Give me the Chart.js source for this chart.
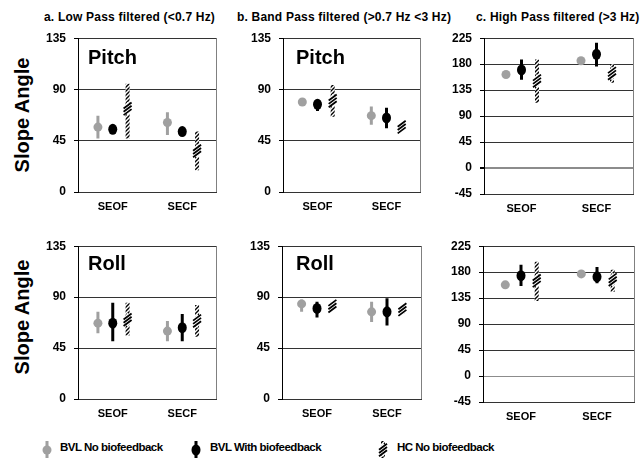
<!DOCTYPE html>
<html>
<head>
<meta charset="utf-8">
<script src="https://cdn.jsdelivr.net/npm/chart.js@4.4.0/dist/chart.umd.min.js"></script>
<style>
  body { margin: 0; background: #fff; }
  #wrap { position: relative; width: 644px; height: 458px; overflow: hidden;
          font-family: "Liberation Sans", Arial, sans-serif; font-weight: bold; color: #000; }
  #wrap canvas { position: absolute; }
  .title { position: absolute; top: 10px; font-size: 12px; letter-spacing: 0.2px; white-space: nowrap; }
  .tag { position: absolute; font-size: 20px; line-height: 20px; }
  .ylab { position: absolute; width: 140px; height: 20px; font-size: 20px; line-height: 20px;
          text-align: center; white-space: nowrap; transform: rotate(-90deg); }
  .leg { position: absolute; top: 441px; font-size: 11.5px; letter-spacing: -0.5px; white-space: nowrap; }
</style>
</head>
<body>
<div id="wrap">
  <div class="title" style="left:44px">a. Low Pass filtered (&lt;0.7 Hz)</div>
  <div class="title" style="left:237px">b. Band Pass filtered (&gt;0.7 Hz &lt;3 Hz)</div>
  <div class="title" style="left:476px">c. High Pass filtered (&gt;3 Hz)</div>

  <div class="ylab" style="left:-48px; top:105px">Slope Angle</div>
  <div class="ylab" style="left:-48px; top:307px">Slope Angle</div>

  <canvas id="c1"></canvas>
  <canvas id="c2"></canvas>
  <canvas id="c3"></canvas>
  <canvas id="c4"></canvas>
  <canvas id="c5"></canvas>
  <canvas id="c6"></canvas>

  <div class="tag" style="left:88px; top:47px">Pitch</div>
  <div class="tag" style="left:296px; top:47px">Pitch</div>
  <div class="tag" style="left:88px; top:253px">Roll</div>
  <div class="tag" style="left:296px; top:253px">Roll</div>

  <canvas id="lg1" width="14" height="20" style="left:40px; top:440px"></canvas>
  <div class="leg" style="left:60px">BVL No biofeedback</div>
  <canvas id="lg2" width="14" height="20" style="left:189px; top:440px"></canvas>
  <div class="leg" style="left:210px">BVL With biofeedback</div>
  <canvas id="lg3" width="14" height="20" style="left:376px; top:440px"></canvas>
  <div class="leg" style="left:397px">HC No biofeedback</div>
</div>

<script>
const categories = ['SEOF', 'SECF'];
const seriesLabels = ['BVL No biofeedback', 'BVL With biofeedback', 'HC No biofeedback'];
const tickStep = 45;
const rangeLowBand = [0, 135];
const rangeHigh = [-45, 225];

// per category (SEOF, SECF): [mean, low, high]
// a. low pass – pitch
const lowPitchGray  = [[57, 47, 67], [61, 50, 70]];
const lowPitchBlack = [[55, 53, 57], [53, 51, 55]];
const lowPitchHatch = [[73, 47, 95], [36, 19, 53]];
// b. band pass – pitch
const bandPitchGray  = [[79, 77, 82], [67, 59, 75]];
const bandPitchBlack = [[77, 71, 81], [65, 56, 74]];
const bandPitchHatch = [[80, 66, 94], [57, 54, 60]];
// c. high pass – pitch
const highPitchGray  = [[162, 159, 165], [186, 183, 189]];
const highPitchBlack = [[170, 153, 188], [197, 176, 217]];
const highPitchHatch = [[151, 113, 188], [164, 148, 180]];
// a. low pass – roll
const lowRollGray  = [[67, 58, 77], [60, 51, 69]];
const lowRollBlack = [[67, 51, 85], [63, 51, 75]];
const lowRollHatch = [[70, 56, 85], [69, 55, 83]];
// b. band pass – roll
const bandRollGray  = [[84, 77, 88], [77, 68, 86]];
const bandRollBlack = [[80, 72, 86], [77, 65, 89]];
const bandRollHatch = [[82, 79, 86], [79, 75, 82]];
// c. high pass – roll
const highRollGray  = [[158, 155, 161], [177, 174, 180]];
const highRollBlack = [[174, 156, 193], [172, 161, 189]];
const highRollHatch = [[165, 130, 198], [167, 146, 184]];

const kinds = ['gray', 'black', 'hatch'];

function makeHatch() {
  const c = document.createElement('canvas');
  c.width = 4; c.height = 4;
  const g = c.getContext('2d');
  g.fillStyle = '#fff';
  g.fillRect(0, 0, 4, 4);
  g.strokeStyle = '#000';
  g.lineWidth = 1.4;
  g.beginPath();
  g.moveTo(0, 4); g.lineTo(4, 0);
  g.moveTo(-1, 1); g.lineTo(1, -1);
  g.moveTo(3, 5); g.lineTo(5, 3);
  g.stroke();
  return g.createPattern(c, 'repeat');
}
const hatch = makeHatch();
const fills = ['#a0a0a0', '#000', hatch];
const barWidths = [3, 3, 4];

function drawMarker(ctx, kind, x, y) {
  ctx.save();
  if (kind === 'gray') {
    ctx.fillStyle = '#a0a0a0';
    ctx.beginPath(); ctx.arc(x, y, 4.5, 0, Math.PI * 2); ctx.fill();
  } else if (kind === 'black') {
    ctx.fillStyle = '#000';
    ctx.beginPath(); ctx.ellipse(x, y, 4.5, 5.5, 0, 0, Math.PI * 2); ctx.fill();
  } else {
    ctx.fillStyle = '#fff';
    ctx.beginPath();
    ctx.moveTo(x, y - 7); ctx.lineTo(x + 5, y); ctx.lineTo(x, y + 7); ctx.lineTo(x - 5, y);
    ctx.closePath(); ctx.fill();
    ctx.strokeStyle = '#000';
    ctx.lineWidth = 1.8;
    ctx.beginPath();
    for (let k = -1; k <= 1; k++) {
      ctx.moveTo(x - 4, y + k * 3.3 + 3);
      ctx.lineTo(x + 4, y + k * 3.3 - 3);
    }
    ctx.stroke();
  }
  ctx.restore();
}

const markerPlugin = {
  id: 'markers',
  afterDatasetsDraw(chart) {
    const ctx = chart.ctx;
    const y = chart.scales.y;
    chart.data.datasets.forEach((ds, i) => {
      chart.getDatasetMeta(i).data.forEach((bar, j) => {
        drawMarker(ctx, ds.kind, bar.x, y.getPixelForValue(ds.means[j]));
      });
    });
  }
};

// right side of the plot frame (left is the axis, top/bottom are grid lines)
const framePlugin = {
  id: 'frame',
  beforeDatasetsDraw(chart) {
    const { ctx, chartArea: a } = chart;
    ctx.save();
    ctx.strokeStyle = '#808080';
    ctx.lineWidth = 1;
    ctx.beginPath();
    ctx.moveTo(Math.round(a.right) - 0.5, a.top);
    ctx.lineTo(Math.round(a.right) - 0.5, a.bottom);
    ctx.stroke();
    ctx.restore();
  }
};

function panel(id, box, yRange, rows) {
  const padL = 44, padT = 10, padR = 3, padB = 26;
  const cv = document.getElementById(id);
  cv.width = box.w + padL + padR;
  cv.height = box.h + padT + padB;
  cv.style.left = (box.x - padL) + 'px';
  cv.style.top = (box.y - padT) + 'px';

  new Chart(cv, {
    type: 'bar',
    data: {
      labels: categories,
      datasets: rows.map((s, i) => ({
        label: seriesLabels[i],
        kind: kinds[i],
        data: s.map(v => [v[1], v[2]]),
        means: s.map(v => v[0]),
        backgroundColor: fills[i],
        borderWidth: 0,
        barPercentage: 1,
        categoryPercentage: box.cat,
        maxBarThickness: barWidths[i]
      }))
    },
    options: {
      responsive: false,
      animation: false,
      layout: { padding: { top: padT, right: padR, left: 0, bottom: 0 } },
      plugins: { legend: { display: false }, tooltip: { enabled: false } },
      scales: {
        x: {
          grid: { display: false, drawTicks: false, tickLength: 0 },
          border: { display: false },
          ticks: { color: '#000', padding: 8, font: { family: 'Liberation Sans', size: 11, weight: 'bold' } },
          afterFit: s => { s.height = padB; }
        },
        y: {
          min: yRange[0],
          max: yRange[1],
          ticks: { stepSize: tickStep, color: '#000', padding: 8,
                   font: { family: 'Liberation Sans', size: 12, weight: 'bold' } },
          grid: {
            color: c => (yRange[0] < 0 && c.tick && c.tick.value === 0) ? '#8c8c8c' : '#333',
            lineWidth: c => (yRange[0] < 0 && c.tick && c.tick.value === 0 && box.y < 100) ? 2 : 1,
            tickLength: 4,
            tickColor: '#000'
          },
          border: { color: '#000', width: 1 },
          afterFit: s => { s.width = padL; }
        }
      }
    },
    plugins: [framePlugin, markerPlugin]
  });
}

panel('c1', { x: 78,  y: 33,  w: 139, h: 159, cat: 0.64 }, rangeLowBand, [lowPitchGray, lowPitchBlack, lowPitchHatch]);
panel('c2', { x: 283, y: 33,  w: 138, h: 159, cat: 0.66 }, rangeLowBand, [bandPitchGray, bandPitchBlack, bandPitchHatch]);
panel('c3', { x: 484, y: 33,  w: 150, h: 161, cat: 0.62 }, rangeHigh, [highPitchGray, highPitchBlack, highPitchHatch]);
panel('c4', { x: 78,  y: 241, w: 139, h: 158, cat: 0.64 }, rangeLowBand, [lowRollGray, lowRollBlack, lowRollHatch]);
panel('c5', { x: 282, y: 241, w: 140, h: 158, cat: 0.66 }, rangeLowBand, [bandRollGray, bandRollBlack, bandRollHatch]);
panel('c6', { x: 483, y: 241, w: 152, h: 161, cat: 0.62 }, rangeHigh, [highRollGray, highRollBlack, highRollHatch]);

// legend icons
['lg1', 'lg2', 'lg3'].forEach((id, i) => {
  const ctx = document.getElementById(id).getContext('2d');
  ctx.fillStyle = fills[i];
  ctx.fillRect(7 - barWidths[i] / 2, 1, barWidths[i], 18);
  drawMarker(ctx, kinds[i], 7, 10);
});
</script>
</body>
</html>
